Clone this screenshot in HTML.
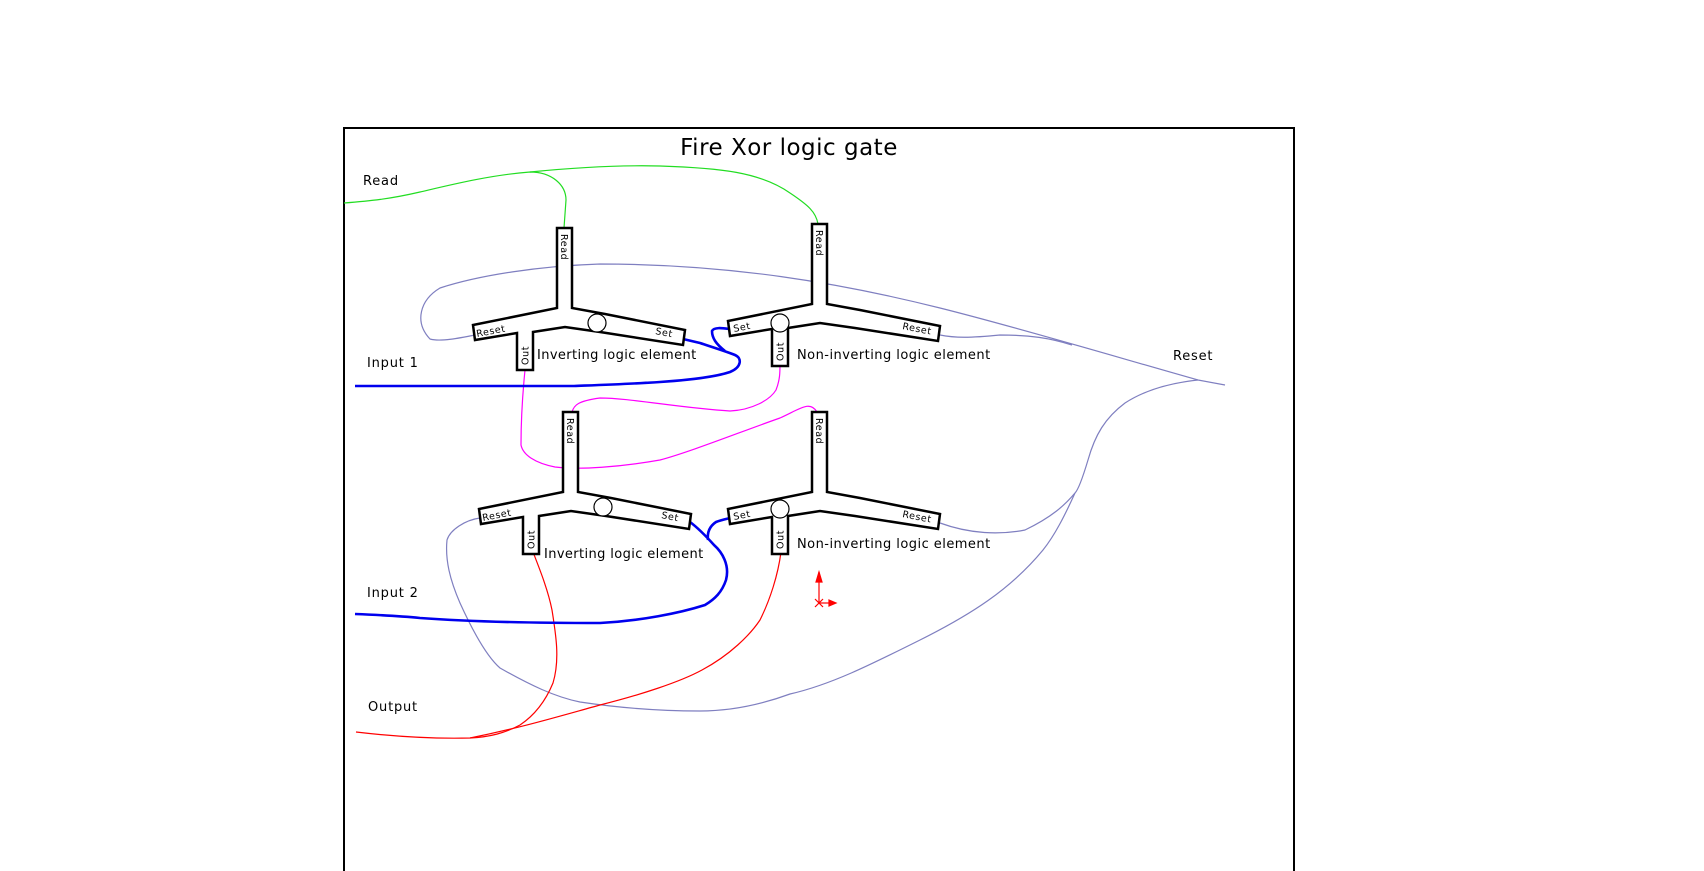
<!DOCTYPE html>
<html><head><meta charset="utf-8"><style>
html,body{margin:0;padding:0;background:#fff;}
svg{display:block;}
text{font-family:"DejaVu Sans","Liberation Sans",sans-serif;fill:#000;}
.s{font-size:9.5px;letter-spacing:0.6px;}
.l{font-size:13px;letter-spacing:0.8px;}
</style></head><body>
<svg width="1704" height="871" viewBox="0 0 1704 871" xmlns="http://www.w3.org/2000/svg">
<defs>
<g id="gate">
<polygon points="0,0 15,0 15,80 48,86 128,102 126,117 43,104 8,99 -24,104 -24,142 -40,142 -40,105 -82,112 -84,97 0,80" fill="#fff" stroke="#000" stroke-width="2.5" stroke-linejoin="miter"/>
<text class="s" transform="translate(4,6) rotate(90)">Read</text>
<text class="s" transform="translate(-28.5,137) rotate(-90)">Out</text>
</g>
</defs>
<rect x="344" y="128" width="950" height="760" fill="none" stroke="#000" stroke-width="2"/>
<text x="789" y="155" text-anchor="middle" style="font-size:23px;letter-spacing:0.5px">Fire Xor logic gate</text>

<g fill="none" stroke-width="1.2">
<path d="M344,203 C370,201 390,199 420,192 C450,185 490,175 530,172 C552,172 566,185 566,200 L564,228" stroke="#22dd22"/>
<path d="M530,172 C580,167 620,165 660,166 C720,168 760,172 790,193 C808,205 816,212 818,224" stroke="#22dd22"/>
<path d="M1225,385 L1198,380 C1120,358 1020,328 940,308 C840,283 730,264 600,264 C540,266 480,275 440,288 C420,300 414,322 430,339 C440,342 460,338 475,335" stroke="#7f7fc0"/>
<path d="M940,335 C955,338 970,338 1000,335 C1030,335 1050,338 1072,345" stroke="#7f7fc0"/>
<path d="M1198,380 C1170,383 1145,390 1125,403 C1105,418 1095,435 1088,460 C1082,480 1078,490 1075,493 C1065,505 1052,517 1025,530 C1000,535 970,534 940,523" stroke="#7f7fc0"/>
<path d="M1075,493 C1065,515 1055,535 1043,550 C1010,590 970,615 920,640 C870,665 830,685 790,694 C760,705 730,711 700,711 C660,711 620,708 580,702 C555,697 530,685 500,668 C485,655 470,625 460,603 C450,580 445,560 447,540 C450,530 465,520 480,518" stroke="#7f7fc0"/>
<path d="M525,370 C523,390 521,420 521,445 C523,455 535,463 555,467 C580,470 620,467 660,460 C690,452 740,432 780,418 C800,409 810,400 817,412" stroke="#ff00ff"/>
<path d="M572,412 C574,405 578,401 600,398 C630,398 680,408 730,411 C752,410 770,400 776,390 C780,380 780,372 780,364" stroke="#ff00ff"/>
<path d="M533,552 C540,570 548,590 552,610 C556,635 560,660 553,683 C546,700 535,715 520,725 C505,733 490,737 470,738 C430,739 390,736 356,732" stroke="#ff0000"/>
<path d="M781,552 C778,575 770,600 760,620 C750,635 730,655 702,670 C680,682 640,695 600,705 C560,716 520,728 470,738" stroke="#ff0000"/>
</g>
<g fill="none" stroke="#0000ee" stroke-width="2.6">
<path d="M355,386 L574,386 C600,385 630,384 660,382 C690,380 715,377 730,372 C742,367 742,358 735,355 C728,352 712,347 700,343 L683,339"/>
<path d="M725,351 C716,344 712,338 712,331 C714,327 722,328 729,329"/>
<path d="M355,614 C380,615 400,616 420,618 C460,621 520,623 600,623 C640,621 680,613 705,605 C715,599 722,592 726,580 C730,565 722,552 714,545 C705,535 698,528 690,522"/>
<path d="M708,540 C707,532 710,526 716,522 C721,520 726,519 730,518"/>
</g>

<g transform="translate(557,228)"><use href="#gate"/>
<circle cx="40" cy="95" r="9" fill="#fff" stroke="#000" stroke-width="1.2"/>
<text class="s" transform="translate(-80,109) rotate(-11)">Reset</text>
<text class="s" transform="translate(98,106) rotate(11)">Set</text></g>
<g transform="translate(812,224)"><use href="#gate"/>
<circle cx="-32" cy="99" r="9" fill="#fff" stroke="#000" stroke-width="1.2"/>
<text class="s" transform="translate(-78,108) rotate(-11)">Set</text>
<text class="s" transform="translate(90,105) rotate(11)">Reset</text></g>
<g transform="translate(563,412)"><use href="#gate"/>
<circle cx="40" cy="95" r="9" fill="#fff" stroke="#000" stroke-width="1.2"/>
<text class="s" transform="translate(-80,109) rotate(-11)">Reset</text>
<text class="s" transform="translate(98,106) rotate(11)">Set</text></g>
<g transform="translate(812,412)"><use href="#gate"/>
<circle cx="-32" cy="97" r="9" fill="#fff" stroke="#000" stroke-width="1.2"/>
<text class="s" transform="translate(-78,108) rotate(-11)">Set</text>
<text class="s" transform="translate(90,105) rotate(11)">Reset</text></g>

<text class="l" x="537" y="359" textLength="160">Inverting logic element</text>
<text class="l" x="797" y="359" textLength="194">Non-inverting logic element</text>
<text class="l" x="544" y="558" textLength="160">Inverting logic element</text>
<text class="l" x="797" y="548" textLength="194">Non-inverting logic element</text>

<text class="l" x="363" y="185">Read</text>
<text class="l" x="367" y="367">Input 1</text>
<text class="l" x="367" y="597">Input 2</text>
<text class="l" x="368" y="711">Output</text>
<text class="l" x="1173" y="360">Reset</text>

<g stroke="#ff0000" fill="#ff0000" stroke-width="1.2">
<line x1="819" y1="572" x2="819" y2="603"/>
<polygon points="816,582 819,572 822,582"/>
<line x1="819" y1="603" x2="833" y2="603"/>
<polygon points="829,600 836,603 829,606"/>
<line x1="815" y1="599" x2="823" y2="607"/><line x1="815" y1="607" x2="823" y2="599"/>
</g>
</svg>
</body></html>
